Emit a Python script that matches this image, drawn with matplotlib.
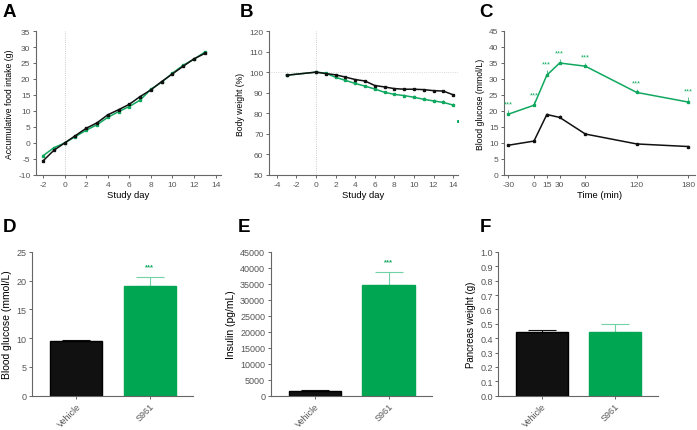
import matplotlib
matplotlib.use("Agg")
import matplotlib.pyplot as plt
import numpy as np

plt.rcParams['font.family'] = ['Liberation Sans', 'DejaVu Sans']
plt.rcParams['axes.unicode_minus'] = False

GREEN = '#10a85f'
GREEN_BAR = '#00a651'
GREEN_ERR = '#6fd3a5'
BLACK = '#111111'
GRAY = '#666666'
TICKC = '#555555'

# Panel A: accumulative food intake
days_a = [-2, -1, 0, 1, 2, 3, 4, 5, 6, 7, 8, 9, 10, 11, 12, 13]
food_vehicle = [-5.6, -2.3, 0, 2.3, 4.6, 6.3, 8.8, 10.4, 12.1, 14.5, 16.6, 19.2, 21.6, 24.0, 26.3, 28.0]
food_s961 = [-4.0, -1.5, 0, 2.0, 4.0, 5.7, 8.0, 9.8, 11.4, 13.4, 16.8, 19.0, 21.8, 24.3, 26.2, 28.4]

# Panel B: body weight
days_b = [-3, 0, 1, 2, 3, 4, 5, 6, 7, 8, 9, 10, 11, 12, 13, 14]
bw_vehicle = [98.5, 100, 99.3, 98.7, 97.6, 96.4, 95.7, 93.5, 92.8, 92.0, 91.7, 91.7, 91.5, 91.0, 90.8, 89.0]
bw_s961 = [98.5, 100, 99.5, 97.5, 96.0, 94.5, 93.2, 91.8, 90.2, 89.2, 88.6, 87.8, 86.8, 86.0, 85.3, 84.0]
bw_s961_err = [0.3, 0.2, 0.3, 0.5, 0.5, 0.6, 0.6, 0.7, 0.8, 0.8, 0.9, 1.0, 1.0, 1.1, 1.1, 1.2]
bw_extra_x = [14.5]
bw_extra_y = [76.3]

# Panel C: blood glucose time course
time_c = [-30, 0, 15, 30, 60, 120, 180]
time_labels = ['-30', '0', '15', '30', '60', '120', '180']
bg_vehicle = [9.3, 10.6, 18.9, 18.0, 12.8, 9.7, 8.9]
bg_vehicle_err = [0.3, 0.4, 0.6, 0.8, 0.4, 0.3, 0.3]
bg_s961 = [19.0, 21.8, 31.2, 35.0, 34.0, 25.8, 22.8]
bg_s961_err = [1.2, 1.3, 1.6, 1.2, 1.0, 1.0, 1.5]

# Panels D-F: bar charts
groups = ['Vehicle', 'S961']
glucose = [9.5, 19.1]
glucose_err = [0.15, 1.5]
insulin = [1500, 34500]
insulin_err = [150, 4200]
pancreas = [0.445, 0.445]
pancreas_err = [0.012, 0.055]

W, H = 697, 431
fig = plt.figure(figsize=(W / 100, H / 100), dpi=100)


def ax_at(l, r, t, b):
    return fig.add_axes([l / W, (H - b) / H, (r - l) / W, (b - t) / H])


def style(ax, tsize):
    for s in ['top', 'right']:
        ax.spines[s].set_visible(False)
    for s in ['left', 'bottom']:
        ax.spines[s].set_color(GRAY)
        ax.spines[s].set_linewidth(0.8)
    ax.tick_params(axis='both', colors=GRAY, labelcolor=TICKC, labelsize=tsize,
                   length=2.5, width=0.7, pad=1.5)


TOP_TICK = 6.0
TOP_XLAB = 6.8
TOP_YLAB = 6.2

# ---- A
axA = ax_at(36, 221, 32, 176)
style(axA, TOP_TICK)
axA.axvline(0, color='#bbbbbb', lw=0.6, ls=':', zorder=0)
axA.plot(days_a, food_vehicle, color=BLACK, lw=1.1, marker='s', ms=1.8, zorder=3)
axA.plot(days_a, food_s961, color=GREEN, lw=1.1, marker='s', ms=1.8, zorder=2)
axA.set_xlim(-2.65, 14.5)
axA.set_ylim(-10, 35)
axA.set_xticks(range(-2, 15, 2))
axA.set_yticks(range(-10, 36, 5))
axA.set_xlabel('Study day', fontsize=TOP_XLAB, labelpad=2)
axA.set_ylabel('Accumulative food intake (g)', fontsize=TOP_YLAB, labelpad=3)

# ---- B
axB = ax_at(269, 458, 32, 176)
style(axB, TOP_TICK)
axB.axvline(0, color='#bbbbbb', lw=0.6, ls=':', zorder=0)
axB.axhline(100, color='#cccccc', lw=0.6, ls=':', zorder=0)
axB.errorbar(days_b, bw_s961, yerr=[np.zeros(len(bw_s961_err)), bw_s961_err],
             color=GREEN, lw=1.1, marker='s', ms=1.8, elinewidth=0.5, capsize=0, zorder=2)
axB.plot(days_b, bw_vehicle, color=BLACK, lw=1.1, marker='s', ms=1.8, zorder=3)
axB.plot(bw_extra_x, bw_extra_y, ls='none', marker='s', ms=1.2, color=GREEN)
axB.set_xlim(-4.8, 14.5)
axB.set_ylim(50, 120)
axB.set_xticks(range(-4, 15, 2))
axB.set_yticks(range(50, 121, 10))
axB.set_xlabel('Study day', fontsize=TOP_XLAB, labelpad=2)
axB.set_ylabel('Body weight (%)', fontsize=TOP_YLAB, labelpad=3)

# ---- C
axC = ax_at(504, 695, 32, 176)
style(axC, TOP_TICK)
axC.errorbar(time_c, bg_vehicle, yerr=[np.zeros(len(bg_vehicle_err)), bg_vehicle_err],
             color=BLACK, lw=1.1, marker='s', ms=1.8, elinewidth=0.5, capsize=0)
axC.errorbar(time_c, bg_s961, yerr=[np.zeros(len(bg_s961_err)), bg_s961_err],
             color=GREEN, lw=1.1, marker='s', ms=1.8, elinewidth=0.5, capsize=0)
for x, y, e in zip(time_c, bg_s961, bg_s961_err):
    axC.text(x, y + e + 0.8, '***', color=GREEN, fontsize=5.5, ha='center', va='bottom')
axC.set_xlim(-35, 188)
axC.set_ylim(0, 45)
axC.set_xticks(time_c)
axC.set_xticklabels(time_labels)
axC.set_yticks(range(0, 46, 5))
axC.set_xlabel('Time (min)', fontsize=TOP_XLAB, labelpad=2)
axC.set_ylabel('Blood glucose (mmol/L)', fontsize=TOP_YLAB, labelpad=3)


def bar_panel(ax, vals, errs, ylim, yticks, ylabel, ylab_fs, star=None, fmt=None):
    style(ax, 6.5)
    x = np.arange(len(groups))
    colors = [BLACK, GREEN_BAR]
    ecolors = [BLACK, GREEN_ERR]
    ax.bar(x, vals, width=0.71, color=colors, edgecolor=['#000000', GREEN_BAR], zorder=2)
    for xi, v, e, ec in zip(x, vals, errs, ecolors):
        ax.errorbar([xi], [v], yerr=[[0], [e]], color=ec, elinewidth=0.8, capsize=10,
                    capthick=0.8, zorder=1)
    if star is not None:
        ax.text(1, vals[1] + errs[1] + star, '***', color=GREEN, fontsize=5.5,
                ha='center', va='bottom', fontweight='bold')
    ax.set_xlim(-0.6, 1.59)
    ax.set_ylim(*ylim)
    ax.set_yticks(yticks)
    if fmt:
        ax.set_yticklabels([fmt(t) for t in yticks])
    ax.set_xticks(x)
    ax.set_xticklabels(groups, rotation=45, ha='right', rotation_mode='anchor', fontsize=6.5)
    ax.set_ylabel(ylabel, fontsize=ylab_fs, labelpad=3)


axD = ax_at(32, 193, 252.7, 396.7)
bar_panel(axD, glucose, glucose_err, (0, 25), range(0, 26, 5), 'Blood glucose (mmol/L)', 7.5, star=1.2)

axE = ax_at(270.7, 432, 252.7, 396.7)
bar_panel(axE, insulin, insulin_err, (0, 45000), range(0, 45001, 5000), 'Insulin (pg/mL)', 7.5, star=2200)

axF = ax_at(498.3, 657.7, 253, 396.7)
bar_panel(axF, pancreas, pancreas_err, (0, 1.0), np.round(np.arange(0, 1.01, 0.1), 1),
          'Pancreas weight (g)', 7.0, fmt=lambda t: f'{t:.1f}')

for lbl, x, y in [('A', 3, 4), ('B', 240, 4), ('C', 479, 4), ('D', 3, 219), ('E', 238, 219), ('F', 480, 219)]:
    fig.text(x / W, 1 - y / H, lbl, fontsize=13.5, fontweight='bold', ha='left', va='top')

fig.savefig('out.png', dpi=100)
